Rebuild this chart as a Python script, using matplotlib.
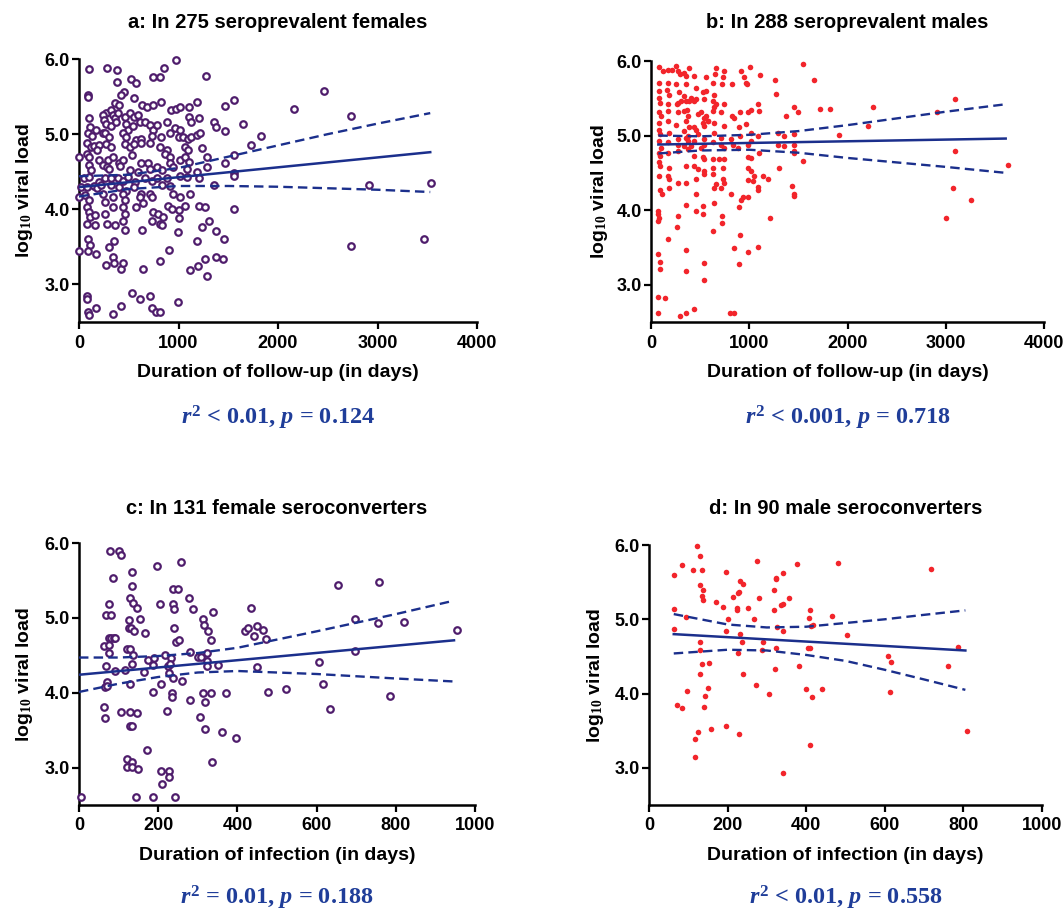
import matplotlib
matplotlib.use("Agg")
import matplotlib.pyplot as plt
import numpy as np

plt.rcParams['font.family'] = ['Liberation Sans', 'DejaVu Sans']
plt.rcParams['mathtext.fontset'] = 'custom'
plt.rcParams['mathtext.it'] = 'Liberation Serif:italic:bold'
plt.rcParams['mathtext.rm'] = 'Liberation Serif:bold'
plt.rcParams['mathtext.bf'] = 'Liberation Serif:bold'

# ---------------- Panel a: seroprevalent females ----------------
a_days = [102, 278, 380, 383, 525, 576, 739, 814, 854, 976, 1278, 451, 424, 549, 95, 95,
          366, 400, 271, 322, 339, 237, 254, 366, 390, 458, 515, 549, 593, 637, 685, 746, 820,
          922, 976, 1017, 1102, 1187, 1464, 1553, 102, 108, 170, 271, 322, 373, 475, 492, 542,
          610, 661, 712, 746, 786, 881, 966, 1017, 1102, 1125, 1203, 1356, 1373, 1464, 1644,
          95, 129, 237, 264, 305, 441, 475, 576, 627, 729, 820, 915, 1000, 1044, 1092, 1125,
          1187, 1220, 85, 119, 153, 203, 271, 322, 458, 515, 549, 627, 712, 814, 881, 1068,
          1237, 1729, 0, 85, 102, 176, 203, 288, 339, 407, 441, 536, 627, 695, 780, 864, 915,
          915, 1017, 1068, 1092, 1102, 1288, 1464, 1559, 102, 119, 237, 278, 305, 414, 515,
          593, 712, 831, 949, 1085, 1187, 1288, 1559, 51, 102, 197, 264, 322, 390, 441, 492,
          559, 661, 729, 780, 881, 1017, 1085, 1203, 17, 85, 153, 176, 220, 322, 407, 475,
          549, 620, 712, 729, 831, 915, 949, 1017, 1119, 1356, 1559, 0, 61, 102, 237, 339,
          441, 458, 610, 85, 102, 108, 163, 261, 264, 339, 441, 458, 576, 644, 746, 797, 848,
          898, 932, 1000, 1000, 1068, 1203, 1271, 1559, 85, 163, 278, 366, 447, 458, 637, 729,
          814, 831, 990, 1237, 1305, 1380, 1458, 92, 108, 95, 0, 170, 305, 356, 339, 909, 1187,
          271, 356, 424, 447, 644, 814, 1119, 1197, 1264, 1288, 1380, 1451, 85, 85, 536, 610,
          712, 993, 92, 102, 170, 339, 424, 729, 773, 814,
          1827, 2157, 2460, 2730, 2730, 2915, 3471, 3539]
a_vl = [5.87, 5.88, 5.85, 5.70, 5.74, 5.68, 5.76, 5.76, 5.88, 5.99, 5.77, 5.56, 5.52, 5.48, 5.52, 5.50,
        5.41, 5.39, 5.28, 5.32, 5.25, 5.25, 5.19, 5.21, 5.28, 5.23, 5.28, 5.23, 5.25, 5.39, 5.36, 5.39, 5.43,
        5.32, 5.34, 5.36, 5.36, 5.43, 5.37, 5.45, 5.21, 5.10, 5.05, 5.14, 5.11, 5.16, 5.14, 5.05, 5.11,
        5.16, 5.16, 5.12, 5.05, 5.12, 5.16, 5.08, 5.05, 5.23, 5.16, 5.21, 5.16, 5.10, 5.04, 5.14,
        5.01, 4.97, 5.02, 5.01, 4.96, 5.01, 4.96, 4.92, 4.94, 4.97, 4.96, 5.01, 4.96, 4.96, 4.93, 4.96,
        4.99, 5.01, 4.88, 4.83, 4.84, 4.85, 4.87, 4.83, 4.87, 4.83, 4.87, 4.88, 4.88, 4.83, 4.79, 4.83,
        4.81, 4.85, 4.70, 4.74, 4.70, 4.79, 4.65, 4.65, 4.70, 4.61, 4.65, 4.72, 4.61, 4.61, 4.56, 4.74, 4.70,
        4.61, 4.65, 4.70, 4.79, 4.63, 4.70, 4.61, 4.72, 4.59, 4.52, 4.59, 4.56, 4.54, 4.57, 4.52,
        4.50, 4.53, 4.52, 4.56, 4.54, 4.50, 4.56, 4.48, 4.41, 4.43, 4.36, 4.41, 4.41, 4.42, 4.38, 4.43,
        4.36, 4.41, 4.38, 4.41, 4.42, 4.44, 4.43, 4.41, 4.29, 4.30, 4.31, 4.28, 4.32, 4.32, 4.30, 4.25,
        4.30, 4.21, 4.20, 4.17, 4.32, 4.31, 4.21, 4.16, 4.21, 4.32, 4.44, 4.16, 4.19, 4.12, 4.20, 4.16,
        4.21, 4.13, 4.16, 4.03, 3.96, 3.90, 3.92, 4.10, 3.94, 4.03, 4.03, 3.94, 4.03, 4.08, 3.96, 3.94, 3.90,
        4.05, 4.00, 3.99, 3.88, 4.05, 4.05, 4.03, 4.00, 3.81, 3.79, 3.81, 3.79, 3.85, 3.72, 3.73, 3.85,
        3.81, 3.79, 3.70, 3.77, 3.84, 3.71, 3.60, 3.60, 3.52, 3.45, 3.44, 3.40, 3.50, 3.58, 3.36, 3.46, 3.58,
        3.26, 3.28, 3.20, 3.28, 3.21, 3.31, 3.19, 3.25, 3.34, 3.11, 3.36, 3.34, 2.85, 2.81, 2.88, 2.81,
        2.84, 2.76, 2.63, 2.59, 2.68, 2.61, 2.71, 2.68, 2.63, 2.63,
        4.98, 5.34, 5.57, 5.24, 3.51, 4.32, 3.61, 4.35]
a_fit_x = [0, 3530]
a_fit_y = [4.295, 4.76]
a_ci_x = [0, 500, 1000, 1500, 2000, 2500, 3000, 3530]
a_ci_hi = [4.44, 4.46, 4.55, 4.70, 4.85, 5.00, 5.14, 5.28]
a_ci_lo = [4.17, 4.27, 4.31, 4.31, 4.30, 4.28, 4.26, 4.23]

# ---------------- Panel b: seroprevalent males ----------------
b_days = [85, 119, 170, 210, 254, 271, 298, 332, 390, 441, 356, 559, 661, 651, 746, 729, 915, 949,
          1010, 966, 1112, 1261, 1542, 1661, 85, 170, 254, 356, 458, 627, 719, 820, 976, 85, 163,
          186, 288, 305, 339, 407, 441, 525, 559, 644, 1271, 85, 95, 170, 271, 264, 356, 390, 458,
          542, 627, 661, 746, 85, 102, 170, 271, 339, 373, 366, 475, 509, 536, 559, 576, 627, 644,
          712, 820, 848, 909, 983, 1017, 1085, 1102, 1373, 1458, 1492, 1719, 85, 170, 254, 356,
          390, 441, 525, 542, 576, 644, 746, 966, 898, 1017, 85, 95, 186, 271, 339, 356, 373, 458,
          475, 441, 542, 644, 712, 814, 909, 1085, 1288, 1356, 1458, 85, 102, 170, 271, 339, 373,
          407, 509, 542, 627, 712, 746, 831, 881, 983, 1017, 1288, 1356, 1458, 1458, 85, 95, 170,
          271, 373, 441, 525, 542, 627, 695, 746, 983, 1017, 1102, 1458, 1542, 85, 95, 186, 356,
          441, 475, 542, 627, 729, 983, 1017, 1305, 85, 170, 186, 271, 356, 458, 542, 627, 729,
          661, 644, 746, 712, 1051, 1034, 1136, 1187, 983, 1085, 1092, 1431, 95, 108, 186, 458,
          814, 932, 990, 1451, 356, 458, 525, 525, 637, 898, 915, 75, 75, 81, 75, 271, 264, 719,
          719, 1214, 170, 627, 909, 356, 75, 841, 990, 1085, 95, 92, 356, 536, 898, 536, 75, 142,
          75, 298, 356, 441, 807, 841,
          1820, 1915, 2204, 2261, 2915, 3092, 3092, 3075, 3000, 3261, 3634, 1458]
b_vl = [5.92, 5.87, 5.88, 5.88, 5.93, 5.86, 5.82, 5.84, 5.91, 5.80, 5.80, 5.79, 5.90, 5.82, 5.87, 5.78, 5.86, 5.78,
        5.92, 5.71, 5.81, 5.75, 5.96, 5.75, 5.71, 5.71, 5.69, 5.69, 5.64, 5.70, 5.69, 5.69, 5.69, 5.60, 5.61,
        5.55, 5.58, 5.46, 5.53, 5.51, 5.46, 5.58, 5.60, 5.55, 5.56, 5.51, 5.44, 5.43, 5.44, 5.42, 5.46, 5.46, 5.49,
        5.49, 5.46, 5.42, 5.43, 5.31, 5.26, 5.33, 5.31, 5.33, 5.26, 5.34, 5.29, 5.31, 5.24, 5.26, 5.20, 5.33, 5.38,
        5.31, 5.26, 5.24, 5.31, 5.31, 5.34, 5.42, 5.33, 5.26, 5.38, 5.31, 5.35, 5.17, 5.20, 5.14, 5.20,
        5.11, 5.11, 5.17, 5.13, 5.20, 5.17, 5.13, 5.15, 5.11, 5.04, 5.08, 5.02, 5.03, 4.95, 5.06, 4.97, 5.00, 5.08,
        5.02, 4.93, 4.95, 5.04, 4.97, 4.96, 5.00, 5.00, 5.04, 5.00, 5.02, 4.93, 4.84, 4.91, 4.88, 4.86, 4.93,
        4.86, 4.84, 4.88, 4.91, 4.88, 4.84, 4.88, 4.84, 4.88, 4.93, 4.88, 4.86, 4.88, 4.79, 4.77, 4.73, 4.77,
        4.79, 4.82, 4.73, 4.71, 4.68, 4.68, 4.68, 4.68, 4.71, 4.70, 4.77, 4.77, 4.66, 4.64, 4.59, 4.57, 4.59,
        4.59, 4.55, 4.53, 4.57, 4.57, 4.57, 4.53, 4.57, 4.46, 4.46, 4.42, 4.37, 4.37, 4.42, 4.48, 4.48, 4.42,
        4.35, 4.30, 4.36, 4.30, 4.46, 4.39, 4.46, 4.42, 4.40, 4.31, 4.27, 4.33, 4.27, 4.21, 4.30, 4.21,
        4.21, 4.17, 4.18, 4.21, 4.07, 3.99, 4.06, 3.95, 4.09, 4.04, 4.13, 3.99, 3.95, 3.90, 3.85, 3.92, 3.77, 3.92,
        3.83, 3.90, 3.61, 3.72, 3.66, 3.46, 3.41, 3.49, 3.44, 3.51, 3.31, 3.21, 3.18, 3.29, 3.28, 3.06, 2.83, 2.82,
        2.62, 2.58, 2.62, 2.67, 2.62, 2.62,
        5.36, 5.01, 5.13, 5.38, 5.32, 5.49, 4.79, 4.30, 3.89, 4.13, 4.61, 4.19]
b_fit_x = [75, 3610]
b_fit_y = [4.88, 4.96]
b_ci_x = [75, 500, 1000, 1500, 2000, 2500, 3000, 3610]
b_ci_hi = [5.00, 4.99, 5.01, 5.06, 5.14, 5.23, 5.32, 5.42]
b_ci_lo = [4.76, 4.80, 4.81, 4.77, 4.70, 4.64, 4.58, 4.50]

# ---------------- Panel c: female seroconverters ----------------
c_days = [5, 64, 66, 62, 69, 66, 71, 71, 69, 82, 77, 86, 79, 100, 106, 77, 81, 88, 92, 75, 77, 92, 115,
          106, 129, 147, 120, 133, 120, 134, 149, 143, 129, 134, 122, 129, 137, 134, 130, 126, 132,
          139, 126, 130, 137, 146, 134, 134, 154, 166, 164, 171, 173, 187, 190, 187, 198, 205, 207,
          218, 221, 224, 228, 228, 207, 228, 209, 188, 243, 237, 249, 237, 239, 239, 245, 252, 232,
          231, 237, 235, 235, 258, 261, 279, 289, 281, 280, 300, 305, 309, 313, 315, 317, 319, 322,
          322, 324, 313, 326, 334, 334, 339, 350, 336, 360, 370, 397, 435, 418, 426, 443, 449, 464,
          473, 449, 477, 523, 605, 615, 634, 654, 698, 698, 757, 755, 786, 820, 954]
c_vl = [2.61, 3.81, 3.66, 4.63, 4.36, 4.07, 4.14, 4.09, 5.04, 5.04, 5.19, 5.53, 5.89, 5.89, 5.84, 4.73, 4.73,
        4.73, 4.73, 4.64, 4.53, 4.29, 4.30, 3.74, 3.74, 3.73, 3.11, 3.07, 3.01, 3.01, 2.98, 2.61, 3.56, 3.56,
        4.59, 4.58, 4.51, 4.39, 4.12, 4.87, 4.87, 4.82, 4.97, 5.26, 5.20, 5.13, 5.43, 5.61, 4.99, 4.80, 4.28,
        3.24, 4.44, 4.37, 4.47, 4.01, 5.69, 5.18, 4.12, 4.50, 3.76, 4.36, 4.26, 2.95, 2.95, 2.88, 2.78, 2.61,
        2.61, 5.39, 5.39, 5.19, 5.12, 4.87, 4.68, 4.70, 4.47, 4.38, 4.19, 4.00, 3.94, 5.75, 4.15, 5.26, 5.12,
        4.54, 3.90, 4.48, 3.68, 4.48, 4.99, 4.90, 3.88, 3.52, 4.42, 4.53, 4.36, 4.00, 4.82, 4.71, 4.00, 5.08,
        4.37, 3.07, 3.47, 3.99, 3.39, 5.13, 4.82, 4.87, 4.76, 4.89, 4.84, 4.72, 4.35, 4.01, 4.05, 4.41, 4.12,
        3.78, 5.44, 4.98, 4.56, 5.48, 4.93, 3.96, 4.95, 4.84]
c_fit_x = [0, 947]
c_fit_y = [4.24, 4.70]
c_ci_x = [0, 100, 200, 300, 400, 600, 800, 947]
c_ci_hi = [4.47, 4.47, 4.49, 4.53, 4.60, 4.82, 5.05, 5.23]
c_ci_lo = [4.01, 4.12, 4.21, 4.27, 4.29, 4.25, 4.19, 4.15]

# ---------------- Panel d: male seroconverters ----------------
d_days = [63, 63, 63, 70, 83, 83, 94, 96, 112, 122, 130, 129, 136, 137, 136, 137, 130, 129, 130, 136,
          142, 139, 153, 150, 159, 118, 118, 124, 170, 189, 196, 197, 197, 202, 213, 223, 225, 227,
          230, 232, 240, 232, 236, 240, 227, 230, 251, 266, 272, 276, 281, 290, 288, 305, 319, 318,
          322, 324, 326, 322, 320, 335, 342, 341, 341, 356, 376, 382, 399, 406, 410, 412, 405, 410,
          414, 410, 418, 439, 465, 481, 505, 608, 615, 614, 717, 761, 785, 809, 342]
d_vl = [5.60, 5.14, 4.87, 3.85, 5.73, 3.81, 5.03, 4.03, 5.66, 5.98, 5.85, 5.46, 5.66, 5.39, 5.31, 5.26, 4.69,
        4.59, 4.27, 4.40, 3.97, 3.82, 4.41, 4.07, 3.52, 3.39, 3.14, 3.48, 5.23, 5.16, 3.56, 5.63, 4.84, 5.00,
        5.30, 5.15, 5.12, 5.36, 5.37, 5.51, 5.48, 4.80, 4.69, 4.27, 4.54, 3.46, 5.15, 5.01, 4.11, 5.78, 5.28,
        4.70, 4.59, 3.99, 5.13, 5.39, 5.54, 5.55, 4.90, 4.61, 4.33, 5.19, 5.21, 5.62, 4.84, 5.28, 5.74, 4.37,
        4.06, 5.02, 5.12, 4.91, 4.62, 4.62, 3.95, 3.31, 4.92, 4.06, 5.04, 5.76, 4.79, 4.51, 4.42, 4.02, 5.68,
        4.37, 4.63, 3.50, 2.93]
d_fit_x = [63, 805]
d_fit_y = [4.80, 4.58]
d_ci_x = [63, 200, 300, 400, 500, 600, 700, 805]
d_ci_hi = [5.07, 4.93, 4.89, 4.90, 4.95, 5.00, 5.06, 5.12]
d_ci_lo = [4.54, 4.59, 4.58, 4.52, 4.44, 4.32, 4.19, 4.05]

titles = ["a: In 275 seroprevalent females", "b: In 288 seroprevalent males",
          "c: In 131 female seroconverters", "d: In 90 male seroconverters"]
xlabels = ["Duration of follow-up (in days)", "Duration of follow-up (in days)",
           "Duration of infection (in days)", "Duration of infection (in days)"]
stats = [r"$r^2$ < 0.01, $p$ = 0.124", r"$r^2$ < 0.001, $p$ = 0.718",
         r"$r^2$ = 0.01, $p$ = 0.188", r"$r^2$ < 0.01, $p$ = 0.558"]
y_ticks = [3.0, 4.0, 5.0, 6.0]
x_ticks_long = [0, 1000, 2000, 3000, 4000]
x_ticks_short = [0, 200, 400, 600, 800, 1000]

W, H = 1064, 914
fig = plt.figure(figsize=(W / 100, H / 100), dpi=100)

PURPLE = '#4f1d6c'
RED = '#f2252b'
BLUE = '#1b2f8c'
STAT = '#1f3d99'

def px(l, t, r, b):
    return [l / W, 1 - b / H, (r - l) / W, (b - t) / H]

panels = [
    dict(rect=px(79, 59, 477, 322), x=a_days, y=a_vl, fx=a_fit_x, fy=a_fit_y, cx=a_ci_x, hi=a_ci_hi, lo=a_ci_lo,
         open_=True, xt=x_ticks_long, xmax=4000, title_y=22, xl_y=372, st_y=418, ylc=-0.110),
    dict(rect=px(651, 61, 1044, 322), x=b_days, y=b_vl, fx=b_fit_x, fy=b_fit_y, cx=b_ci_x, hi=b_ci_hi, lo=b_ci_lo,
         open_=False, xt=x_ticks_long, xmax=4000, title_y=22, xl_y=372, st_y=418, ylc=-0.104),
    dict(rect=px(79, 543, 475, 805), x=c_days, y=c_vl, fx=c_fit_x, fy=c_fit_y, cx=c_ci_x, hi=c_ci_hi, lo=c_ci_lo,
         open_=True, xt=x_ticks_short, xmax=1000, title_y=508, xl_y=855, st_y=898, ylc=-0.110),
    dict(rect=px(649, 545, 1042, 805), x=d_days, y=d_vl, fx=d_fit_x, fy=d_fit_y, cx=d_ci_x, hi=d_ci_hi, lo=d_ci_lo,
         open_=False, xt=x_ticks_short, xmax=1000, title_y=508, xl_y=855, st_y=898, ylc=-0.109),
]

for i, p in enumerate(panels):
    ax = fig.add_axes(p['rect'])
    if p['open_']:
        ax.scatter(p['x'], p['y'], s=22, facecolors='white', edgecolors=PURPLE, linewidths=1.6,
                   zorder=3, clip_on=False)
    else:
        ax.scatter(p['x'], p['y'], s=16, color=RED, linewidths=0, zorder=3, clip_on=False)
    ax.plot(p['fx'], p['fy'], color=BLUE, lw=1.8, zorder=4)
    ax.plot(p['cx'], p['hi'], color=BLUE, lw=1.7, ls=(0, (4, 2.2)), zorder=4)
    ax.plot(p['cx'], p['lo'], color=BLUE, lw=1.7, ls=(0, (4, 2.2)), zorder=4)
    ax.set_xlim(0, p['xmax'])
    ax.set_ylim(2.5, 6.0)
    ax.set_xticks(p['xt'])
    ax.set_yticks(y_ticks)
    ax.set_yticklabels([f"{v:.1f}" for v in y_ticks])
    for s in ['top', 'right']:
        ax.spines[s].set_visible(False)
    for s in ['left', 'bottom']:
        ax.spines[s].set_linewidth(1.8)
    ax.tick_params(direction='out', length=5, width=1.6, labelsize=13)
    ax.tick_params(axis='x', pad=4)
    ax.tick_params(axis='y', pad=1.5)
    for lab in ax.get_xticklabels() + ax.get_yticklabels():
        lab.set_fontweight('bold')
    ax.set_ylabel(r"log$_{10}$ viral load", fontsize=14, fontweight='bold')
    ax.yaxis.set_label_coords(p['ylc'], 0.5)
    l, b, w, h = p['rect']
    cxf = l + w / 2
    fig.text(cxf, 1 - p['title_y'] / H, titles[i], ha='center', va='center', fontsize=14.5, fontweight='bold')
    fig.text(cxf, 1 - p['xl_y'] / H, xlabels[i], ha='center', va='center', fontsize=14, fontweight='bold')
    fig.text(cxf, 1 - p['st_y'] / H, stats[i], ha='center', va='center', fontsize=17.5, fontweight='bold',
             family='Liberation Serif', color=STAT)

fig.savefig("out.png", dpi=100, facecolor='white')
